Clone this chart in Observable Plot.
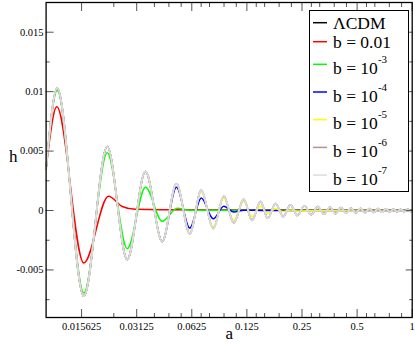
<!DOCTYPE html>
<html><head><meta charset="utf-8">
<script src="https://cdn.jsdelivr.net/npm/d3@7"></script>
<script src="https://cdn.jsdelivr.net/npm/@observablehq/plot@0.6"></script>
<style>
html,body{margin:0;padding:0;background:#fff;}
#chart{width:415px;height:346px;}
#chart svg, #chart svg text, #chart svg g {font-family: "Liberation Serif", "Times New Roman", serif !important;}
</style></head><body><div id="chart"></div>
<script>
// ---- axis ticks ----
const xMajor = [0.015625, 0.03125, 0.0625, 0.125, 0.25, 0.5, 1];
const xMajorLabels = ["0.015625", "0.03125", "0.0625", "0.125", "0.25", "0.5", "1"];
const xMinor = [0.0234375, 0.0390625, 0.046875, 0.0546875, 0.0703125, 0.078125, 0.09375, 0.109375,
  0.140625, 0.15625, 0.1875, 0.21875, 0.28125, 0.3125, 0.375, 0.4375, 0.5625, 0.625, 0.75, 0.875];
const yMajor = [-0.005, 0, 0.005, 0.01, 0.015];
const yMajorLabels = ["-0.005", "0", "0.005", "0.01", "0.015"];
const yMinor = [-0.0075, -0.0025, 0.0025, 0.0075, 0.0125];

// ---- series (extrema of each curve) ----
const aLCDM = [0.01, 0.0115, 0.01607, 0.02157, 0.02774, 0.03491, 0.04307, 0.05153, 0.06096, 0.07041, 0.08186, 0.09353,
  0.106, 0.1202, 0.1333, 0.1484, 0.1626, 0.1791, 0.1976, 0.2164, 0.2354, 0.258, 0.2806, 0.305, 0.3297, 0.3557,
  0.3812, 0.4086, 0.4351, 0.463, 0.4914, 0.5219, 0.552, 0.5844, 0.6163, 0.6503, 0.6838, 0.7191, 0.7547, 0.7905,
  0.827, 0.8652, 0.9043, 0.9449, 0.9862, 1];
const hLCDM = [0.0035, 0.01028, -0.00721, 0.00539, -0.00413, 0.0033, -0.00262, 0.00226, -0.00195, 0.0017, -0.00152, 0.0012,
  -0.00103, 0.00095, -0.00083, 0.00076, -0.00066, 0.0006, -0.00052, 0.00048, -0.00042, 0.0004, -0.00036, 0.00034, -0.00031, 0.00029,
  -0.00027, 0.00025, -0.00024, 0.00022, -0.00021, 0.0002, -0.00019, 0.00018, -0.00017, 0.00016, -0.00015, 0.00014, -0.00013, 0.00013,
  -0.00012, 0.00011, -0.00011, 0.0001, -0.0001, -0.00005];

const a1e7 = aLCDM;
const h1e7 = hLCDM;

const a1e6 = [0.01, 0.0115, 0.01607, 0.02157, 0.02774, 0.03491, 0.04307, 0.05153, 0.06096, 0.07041, 0.08186, 0.09353,
  0.106, 0.1202, 0.1333, 0.1484, 0.1626, 0.1791, 0.1976, 0.2164, 0.2354, 0.258, 0.2806, 0.305, 0.3297, 0.3557,
  0.3812, 0.4086, 0.4351, 0.463, 0.4914, 0.5219, 0.552, 0.5844, 0.6163, 0.6503, 0.6838, 0.8, 1];
const h1e6 = [0.0035, 0.01028, -0.00721, 0.00539, -0.00413, 0.0033, -0.00262, 0.00226, -0.00195, 0.0017, -0.00152, 0.0012,
  -0.00103, 0.00095, -0.00083, 0.00076, -0.00066, 0.0006, -0.00052, 0.00048, -0.00042, 0.00037, -0.00031, 0.00027, -0.00023, 0.0002,
  -0.00017, 0.00014, -0.00011, 0.00009, -0.00007, 0.00005, -0.00004, 0.00003, -0.00002, 0.00002, 0, 0, 0];

const a1e5 = [0.01, 0.0115, 0.01607, 0.02157, 0.02774, 0.03491, 0.04307, 0.05153, 0.06096, 0.07041, 0.08186, 0.09353,
  0.106, 0.1202, 0.1333, 0.1484, 0.1626, 0.1791, 0.1976, 0.2164, 0.2354, 0.3, 1];
const h1e5 = [0.0035, 0.01028, -0.00721, 0.00539, -0.00413, 0.0033, -0.00262, 0.00224, -0.00186, 0.0016, -0.00136, 0.00105,
  -0.00082, 0.00078, -0.00052, 0.00035, -0.00024, 0.00014, -0.00008, 0.00005, -0.00003, 0, 0];

const a1e4 = [0.01, 0.0115, 0.01607, 0.02157, 0.02774, 0.03491, 0.04307, 0.05153, 0.06096, 0.07041, 0.08186, 0.09353,
  0.106, 0.1202, 0.16, 1];
const h1e4 = [0.0035, 0.01028, -0.00721, 0.00539, -0.00413, 0.0033, -0.0026, 0.00196, -0.00148, 0.00106, -0.0007, 0.00035,
  -0.00012, 0.00003, 0, 0];

const a1e3 = [0.01, 0.0115, 0.01607, 0.02157, 0.02774, 0.03491, 0.04307, 0.052, 0.061, 1];
const h1e3 = [0.0035, 0.0101, -0.00693, 0.00486, -0.00321, 0.00196, -0.0009, 0.0002, 0.00002, 0.00002];

const a1e2 = [0.01, 0.01144, 0.01607, 0.02192, 0.02603, 0.03078, 0.04307, 1];
const h1e2 = [0.0035, 0.00872, -0.00441, 0.0012, 0.00034, 0.0001, 0.00006, 0.00005];

const legendBase = ["ΛCDM", "b = 0.01", "b = 10", "b = 10", "b = 10", "b = 10", "b = 10"];
const legendExp = ["", "", "-3", "-4", "-5", "-6", "-7"];
const colors = ["#000000", "#ff0000", "#00ff00", "#0000ff", "#ffff00", "#bc8f8f", "#dcdcdc"];

const seriesA = [aLCDM, a1e2, a1e3, a1e4, a1e5, a1e6, a1e7];
const seriesH = [hLCDM, h1e2, h1e3, h1e4, h1e5, h1e6, h1e7];

const rows = seriesA.flatMap((arr, k) => arr.map((a, j) => ({a, h: seriesH[k][j], k})));

const tickStroke = "#555";
const font = "Liberation Serif";

const plot = Plot.plot({
  width: 415, height: 346,
  marginLeft: 45.6, marginRight: 3.3, marginTop: 2, marginBottom: 29,
  style: {fontFamily: font, background: "white", color: "black"},
  x: {type: "log", base: 2, domain: [0.01, 1]},
  y: {domain: [-0.009, 0.0175]},
  marks: [
    ...seriesA.map((_, k) => Plot.line(rows.filter(r => r.k === k), {
      x: "a", y: "h", stroke: colors[k], strokeWidth: k === 6 ? 2 : 1.5, curve: "monotone-x"
    })),
    // bottom axis
    Plot.axisX(xMajor, {anchor: "bottom", tickSize: -8, stroke: tickStroke, tickFormat: () => "", label: null}),
    Plot.axisX(xMinor, {anchor: "bottom", tickSize: -4, stroke: tickStroke, tickFormat: () => "", label: null}),
    Plot.axisX(xMajor, {anchor: "bottom", tickSize: 0, tickPadding: 5, fontSize: 10.5, fontFamily: font,
      tickFormat: d => xMajorLabels[xMajor.indexOf(d)], label: null}),
    // top axis
    Plot.axisX(xMajor, {anchor: "top", tickSize: -8, stroke: tickStroke, tickFormat: () => "", label: null}),
    Plot.axisX(xMinor, {anchor: "top", tickSize: -4, stroke: tickStroke, tickFormat: () => "", label: null}),
    // left axis
    Plot.axisY(yMajor, {anchor: "left", tickSize: -8, stroke: tickStroke, tickFormat: () => "", label: null}),
    Plot.axisY(yMinor, {anchor: "left", tickSize: -4, stroke: tickStroke, tickFormat: () => "", label: null}),
    Plot.axisY(yMajor, {anchor: "left", tickSize: 0, tickPadding: 2.5, fontSize: 10.5, fontFamily: font,
      tickFormat: d => yMajorLabels[yMajor.indexOf(d)], label: null}),
    // right axis
    Plot.axisY(yMajor, {anchor: "right", tickSize: -7, stroke: tickStroke, tickFormat: () => "", label: null}),
    Plot.axisY(yMinor, {anchor: "right", tickSize: -3.5, stroke: tickStroke, tickFormat: () => "", label: null}),
    Plot.frame({stroke: "#000", strokeWidth: 1.3}),
    Plot.text(["a"], {text: d => d, frameAnchor: "bottom", lineAnchor: "bottom", dy: 21, fontSize: 17, fontFamily: font}),
    Plot.text(["h"], {text: d => d, frameAnchor: "left", dx: -37, dy: -3, fontSize: 17, fontFamily: font})
  ]
});

// ---- legend box (inside plot frame, top-right) ----
const svg = d3.select(plot);
const lg = svg.append("g").attr("font-family", font).attr("fill", "black").attr("text-anchor", "start");
lg.append("rect").attr("x", 309.5).attr("y", 10.5).attr("width", 99).attr("height", 181)
  .attr("fill", "white").attr("stroke", "black").attr("stroke-width", 1);
legendBase.forEach((txt, i) => {
  const ly = i === 0 ? 22.7 : i === 1 ? 41.7 : 64.3 + (i - 2) * 27.7;
  const by = i < 2 ? ly + 5.8 : ly + 9.7;
  lg.append("line").attr("x1", 313).attr("x2", 327).attr("y1", ly).attr("y2", ly)
    .attr("stroke", colors[i]).attr("stroke-width", 1.5);
  const t = lg.append("text").attr("x", 333).attr("y", by).attr("font-size", 17.5)
    .attr("text-anchor", "start").text(txt);
  if (legendExp[i]) {
    t.append("tspan").attr("dy", -11).attr("font-size", 11).text(legendExp[i]);
  }
});

document.getElementById("chart").appendChild(plot);
</script>
</body></html>
